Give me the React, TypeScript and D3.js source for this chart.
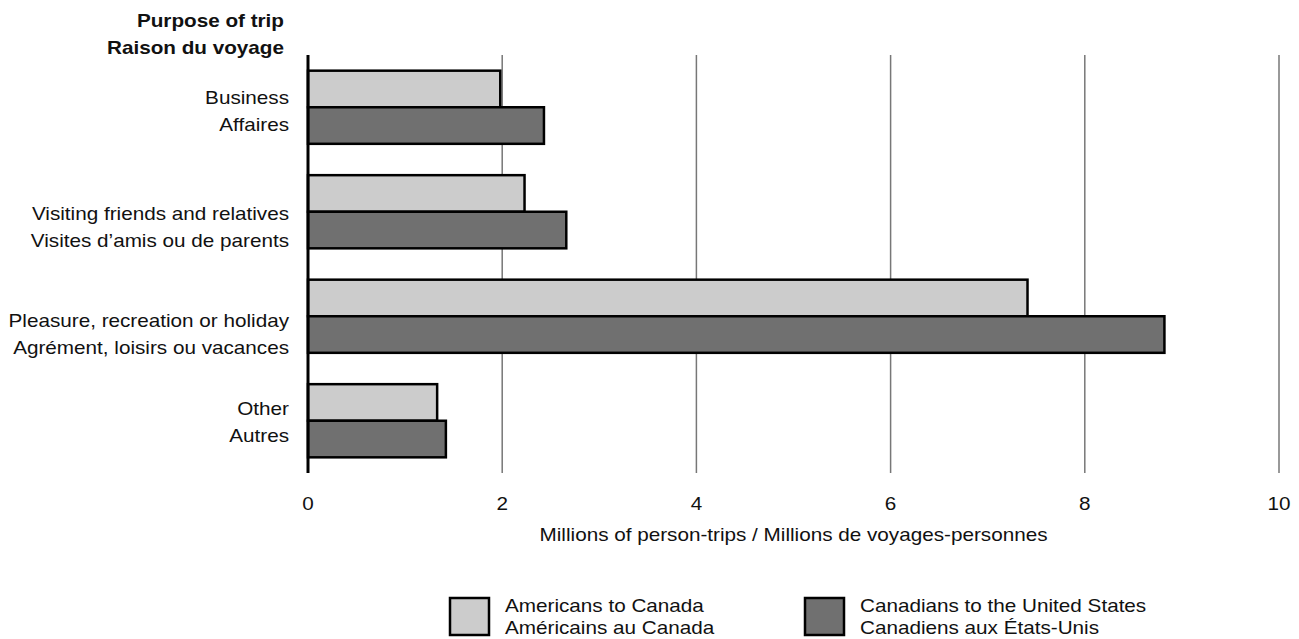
import React from "react";
import * as d3 from "d3";

const categoriesEn = ["Business", "Visiting friends and relatives", "Pleasure, recreation or holiday", "Other"];
const categoriesFr = ["Affaires", "Visites d\u2019amis ou de parents", "Agr\u00e9ment, loisirs ou vacances", "Autres"];
const americansToCanada = [1.98, 2.23, 7.41, 1.33];
const canadiansToUS = [2.43, 2.66, 8.82, 1.42];
const xTicks = [0, 2, 4, 6, 8, 10];
const seriesNames = [
  ["Americans to Canada", "Am\u00e9ricains au Canada"],
  ["Canadians to the United States", "Canadiens aux \u00c9tats-Unis"],
];
const seriesColors = ["#cccccc", "#707070"];

const W = 1299;
const H = 639;
const left = 300;
const right = 1271;
const top = 47;
const bottom = 465;
const font = "Liberation Sans, Arial, sans-serif";
const SX = 1.15;
const FS = 18;
const labelShift = [-3.5, 8.5, 10.5, -5.5];

function T(props: { x: number; y: number; anchor?: string; bold?: boolean; children: React.ReactNode }) {
  return (
    <text
      transform={`translate(${props.x},${props.y}) scale(${SX},1)`}
      textAnchor={props.anchor || "start"}
      fontSize={FS}
      fontWeight={props.bold ? "bold" : "normal"}
      fill="#111"
    >
      {props.children}
    </text>
  );
}

export default function App() {
  const x = d3.scaleLinear().domain([0, 10]).range([left, right]);
  const y = d3
    .scaleBand<number>()
    .domain(d3.range(categoriesEn.length))
    .range([top, bottom])
    .paddingInner(0.3)
    .paddingOuter(0.15);
  const sub = d3.scaleBand<number>().domain([0, 1]).range([0, y.bandwidth()]);
  const series = [americansToCanada, canadiansToUS];

  return (
    <svg width={W - 16} height={H - 8} style={{ display: "block", fontFamily: font, overflow: "visible" }}>
      {xTicks.slice(1).map((t) => (
        <line key={t} x1={x(t)} x2={x(t)} y1={top} y2={bottom} stroke="#777" strokeWidth={1.5} />
      ))}
      {series.map((vals, si) =>
        vals.map((v, ci) => (
          <rect
            key={`${si}-${ci}`}
            x={x(0)}
            y={(y(ci) as number) + (sub(si) as number)}
            width={x(v) - x(0)}
            height={sub.bandwidth()}
            fill={seriesColors[si]}
            stroke="#000"
            strokeWidth={2.5}
          />
        ))
      )}
      <line x1={x(0)} x2={x(0)} y1={top} y2={bottom} stroke="#000" strokeWidth={3} />
      {xTicks.map((t) => (
        <T key={t} x={x(t)} y={502} anchor="middle">
          {t}
        </T>
      ))}
      <T x={(left + right) / 2} y={533} anchor="middle">
        Millions of person-trips / Millions de voyages-personnes
      </T>
      <T x={276} y={19} anchor="end" bold>
        Purpose of trip
      </T>
      <T x={276} y={46} anchor="end" bold>
        Raison du voyage
      </T>
      {categoriesEn.map((c, i) => {
        const cy = (y(i) as number) + y.bandwidth() / 2 + labelShift[i];
        return (
          <g key={c}>
            <T x={281} y={cy} anchor="end">
              {c}
            </T>
            <T x={281} y={cy + 27} anchor="end">
              {categoriesFr[i]}
            </T>
          </g>
        );
      })}
      {seriesNames.map((n, i) => {
        const lx = 442 + i * 355;
        return (
          <g key={i}>
            <rect x={lx} y={590} width={39} height={37} fill={seriesColors[i]} stroke="#000" strokeWidth={2.5} />
            <T x={lx + 55} y={604}>
              {n[0]}
            </T>
            <T x={lx + 55} y={626}>
              {n[1]}
            </T>
          </g>
        );
      })}
    </svg>
  );
}
